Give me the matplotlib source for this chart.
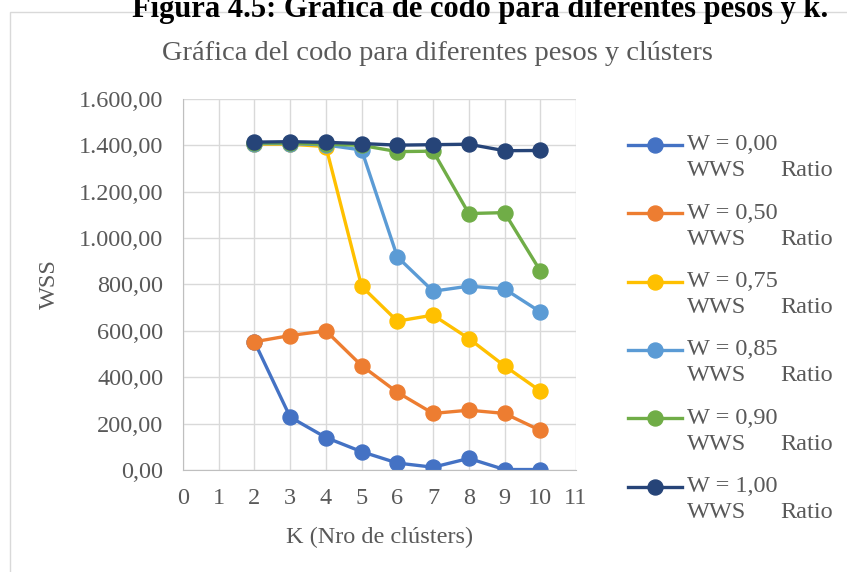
import matplotlib
matplotlib.use("Agg")
import matplotlib.pyplot as plt
from matplotlib.ticker import FuncFormatter, MultipleLocator
from matplotlib.patches import Rectangle
from matplotlib.lines import Line2D

k = [2, 3, 4, 5, 6, 7, 8, 9, 10]
w000 = [553, 228, 140, 79, 30, 12, 50, 2, 2]
w050 = [553, 580, 600, 450, 335, 244, 258, 244, 171]
w075 = [1405, 1405, 1395, 792, 642, 668, 567, 449, 341]
w085 = [1408, 1408, 1402, 1380, 919, 771, 793, 781, 682]
w090 = [1410, 1410, 1405, 1400, 1373, 1375, 1106, 1110, 859]
w100 = [1414, 1416, 1413, 1408, 1401, 1403, 1405, 1377, 1378]

series = [w000, w050, w075, w085, w090, w100]
labels = ["W = 0,00", "W = 0,50", "W = 0,75", "W = 0,85", "W = 0,90", "W = 1,00"]
sublabel = ("WWS", "Ratio")
colors = ["#4472C4", "#ED7D31", "#FFC000", "#5B9BD5", "#70AD47", "#264478"]

plt.rcParams['font.family'] = ['Liberation Serif', 'DejaVu Serif']
gray = "#595959"
W, H = 847, 572

fig = plt.figure(figsize=(8.47, 5.72), dpi=100)
ax = fig.add_axes([183/W, 1-470/H, (576-183)/W, (470-99)/H])

for s, lab, c in zip(series, labels, colors):
    ax.plot(k, s, color=c, lw=2.4, marker='o', markersize=10.8, label=lab)

ax.set_xlim(0, 11)
ax.set_ylim(0, 1600)
ax.xaxis.set_major_locator(MultipleLocator(1))
ax.yaxis.set_major_locator(MultipleLocator(200))

def fmt(v, pos):
    s = f"{v:,.2f}"
    return s.replace(",", "X").replace(".", ",").replace("X", ".")
ax.yaxis.set_major_formatter(FuncFormatter(fmt))

ax.grid(True, color="#d9d9d9", lw=1)
ax.set_axisbelow(True)
for sp in ["top", "right"]:
    ax.spines[sp].set_visible(False)
for sp in ["left", "bottom"]:
    ax.spines[sp].set_color("#bfbfbf")
ax.tick_params(length=0, labelsize=17.5, colors=gray)
ax.tick_params(axis='y', pad=14)
ax.tick_params(axis='x', pad=13)
ax.set_xlabel("K (Nro de clústers)", fontsize=17.5, color=gray, labelpad=13)
ax.set_ylabel("WSS", fontsize=17.5, color=gray, labelpad=14)

# manual legend (handle aligned with first text line, as in the reference)
for i, (lab, c) in enumerate(zip(labels, colors)):
    y = 1 - (145 + 68.3*i)/H
    fig.add_artist(Line2D([628/W, 682/W], [y, y], transform=fig.transFigure,
                          color=c, lw=2.4))
    fig.add_artist(Line2D([655/W], [y], transform=fig.transFigure, color=c,
                          marker='o', markersize=10.8, lw=0))
    fig.text(687/W, y, lab, ha="left", va="center", fontsize=17.5, color=gray)
    y2 = 1 - (145 + 26 + 68.3*i)/H
    fig.text(687/W, y2, sublabel[0], ha="left", va="center", fontsize=17.5, color=gray)
    fig.text(833/W, y2, sublabel[1], ha="right", va="center", fontsize=17.5, color=gray)

fig.text(437/W, 1-53/H, "Gráfica del codo para diferentes pesos y clústers",
         ha="center", va="center", fontsize=20.5, color=gray)
fig.text(480/W, 1-17/H, "Figura 4.5: Gráfica de codo para diferentes pesos y k.",
         ha="center", va="baseline", fontsize=22, fontweight="bold", color="black")

fig.patches.append(Rectangle((10/W, -0.01), 1.0, 1-12/H+0.01,
                             transform=fig.transFigure, fill=False,
                             edgecolor="#d9d9d9", lw=1))

fig.savefig("out.png", dpi=100)
